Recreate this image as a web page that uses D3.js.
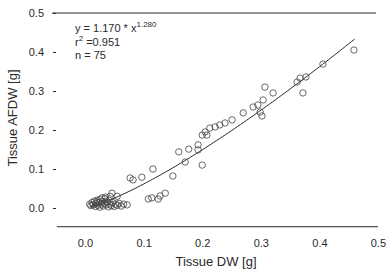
<!DOCTYPE html>
<html><head><meta charset="utf-8">
<script src="https://cdn.jsdelivr.net/npm/d3@7"></script>
<style>
html,body{margin:0;padding:0;background:#fff;}
svg{display:block;font-family:"Liberation Sans",Arial,sans-serif;}
</style></head>
<body><svg id="c" width="390" height="271"></svg>
<script>
const xTicks = [0.0, 0.1, 0.2, 0.3, 0.4, 0.5];
const yTicks = [0.0, 0.1, 0.2, 0.3, 0.4, 0.5];
const xLabel = "Tissue DW [g]";
const yLabel = "Tissue AFDW [g]";
const fitA = 1.170, fitB = 1.280, r2 = "0.951", nObs = 75;
const dwValues = [
 0.008,0.010,0.012,0.014,0.016,0.018,0.019,0.021,0.022,0.024,0.025,0.026,0.028,0.030,0.031,0.033,0.034,0.036,0.038,0.040,
 0.041,0.043,0.045,0.047,0.050,0.052,0.055,0.058,0.062,0.066,0.072,0.046,0.043,0.035,0.055,0.020,0.029,
 0.108,0.114,0.125,0.128,0.137,
 0.077,0.082,0.097,0.116,0.150,0.160,0.177,0.193,0.171,0.200,0.193,0.200,0.205,0.208,0.213,0.222,0.230,0.239,0.251,
 0.270,0.287,0.295,0.304,0.299,0.302,0.307,0.321,0.362,0.367,0.377,0.372,0.406,0.459
];
const afdwValues = [
 0.010,0.006,0.014,0.008,0.018,0.004,0.011,0.020,0.007,0.014,0.002,0.022,0.010,0.017,0.005,0.012,0.024,0.008,0.015,0.003,
 0.020,0.010,0.006,0.014,0.004,0.010,0.007,0.012,0.005,0.010,0.008,0.038,0.030,0.028,0.030,0.015,0.026,
 0.023,0.026,0.023,0.031,0.038,
 0.077,0.072,0.079,0.100,0.082,0.144,0.151,0.149,0.118,0.110,0.162,0.187,0.195,0.187,0.205,0.208,0.213,0.218,0.226,
 0.244,0.259,0.264,0.277,0.246,0.236,0.310,0.295,0.323,0.333,0.336,0.295,0.369,0.405
];
const curveX = d3.range(0.01, 0.4601, 0.005);

const svg = d3.select("#c");
const x = d3.scaleLinear().domain([0, 0.5]).range([85, 378]);
const y = d3.scaleLinear().domain([0, 0.5]).range([208, 13]);
const ink = "#2a2a2a";

// frame lines
svg.append("line").attr("x1", 52).attr("x2", 376).attr("y1", y(0.5)).attr("y2", y(0.5))
  .attr("stroke", ink).attr("stroke-width", 1);
svg.append("line").attr("x1", x(-0.048)).attr("x2", x(0.5)).attr("y1", y(-0.048)).attr("y2", y(-0.048))
  .attr("stroke", ink).attr("stroke-width", 1);

// y axis
const ya = svg.append("g").attr("transform", "translate(56,0)")
  .call(d3.axisLeft(y).tickValues(yTicks).tickFormat(d3.format(".1f")).tickSize(3).tickPadding(9));
ya.select(".domain").remove();
ya.selectAll("line").attr("stroke", ink);
ya.selectAll("text").attr("fill", ink).style("font-size", "11px").style("font-family", "'Liberation Sans',Arial,sans-serif");

// x axis
const xa = svg.append("g").attr("transform", `translate(0,${y(-0.048)})`)
  .call(d3.axisBottom(x).tickValues(xTicks).tickFormat(d3.format(".1f")).tickSize(0).tickPadding(12));
xa.select(".domain").remove();
xa.selectAll("text").attr("fill", ink).style("font-size", "11px").style("font-family", "'Liberation Sans',Arial,sans-serif");

// axis titles
svg.append("text").attr("x", 216).attr("y", 266).attr("text-anchor", "middle")
  .attr("fill", ink).style("font-size", "13px").text(xLabel);
svg.append("text").attr("transform", "translate(17,118) rotate(-90)").attr("text-anchor", "middle")
  .attr("fill", ink).style("font-size", "13px").text(yLabel);

// fit curve
const line = d3.line().x(d => x(d)).y(d => y(fitA * Math.pow(d, fitB)));
svg.append("path").datum(curveX).attr("d", line).attr("fill", "none")
  .attr("stroke", ink).attr("stroke-width", 1);

// points
svg.append("g").selectAll("circle").data(dwValues.map((d, i) => [d, afdwValues[i]])).join("circle")
  .attr("cx", d => x(d[0])).attr("cy", d => y(d[1])).attr("r", 3.2)
  .attr("fill", "none").attr("stroke", "#444").attr("stroke-width", 0.8);

// annotation
const ann = svg.append("g").attr("fill", ink).style("font-size", "11px");
const t1 = ann.append("text").attr("x", 75).attr("y", 32);
t1.append("tspan").text(`y = ${fitA.toFixed(3)} * x`);
t1.append("tspan").attr("dy", -5).style("font-size", "8px").text(fitB.toFixed(3));
const t2 = ann.append("text").attr("x", 75).attr("y", 46);
t2.append("tspan").text("r");
t2.append("tspan").attr("dy", -5).style("font-size", "8px").text("2");
t2.append("tspan").attr("dy", 5).text(" =" + r2);
ann.append("text").attr("x", 75).attr("y", 59).text(`n = ${nObs}`);
</script></body></html>
